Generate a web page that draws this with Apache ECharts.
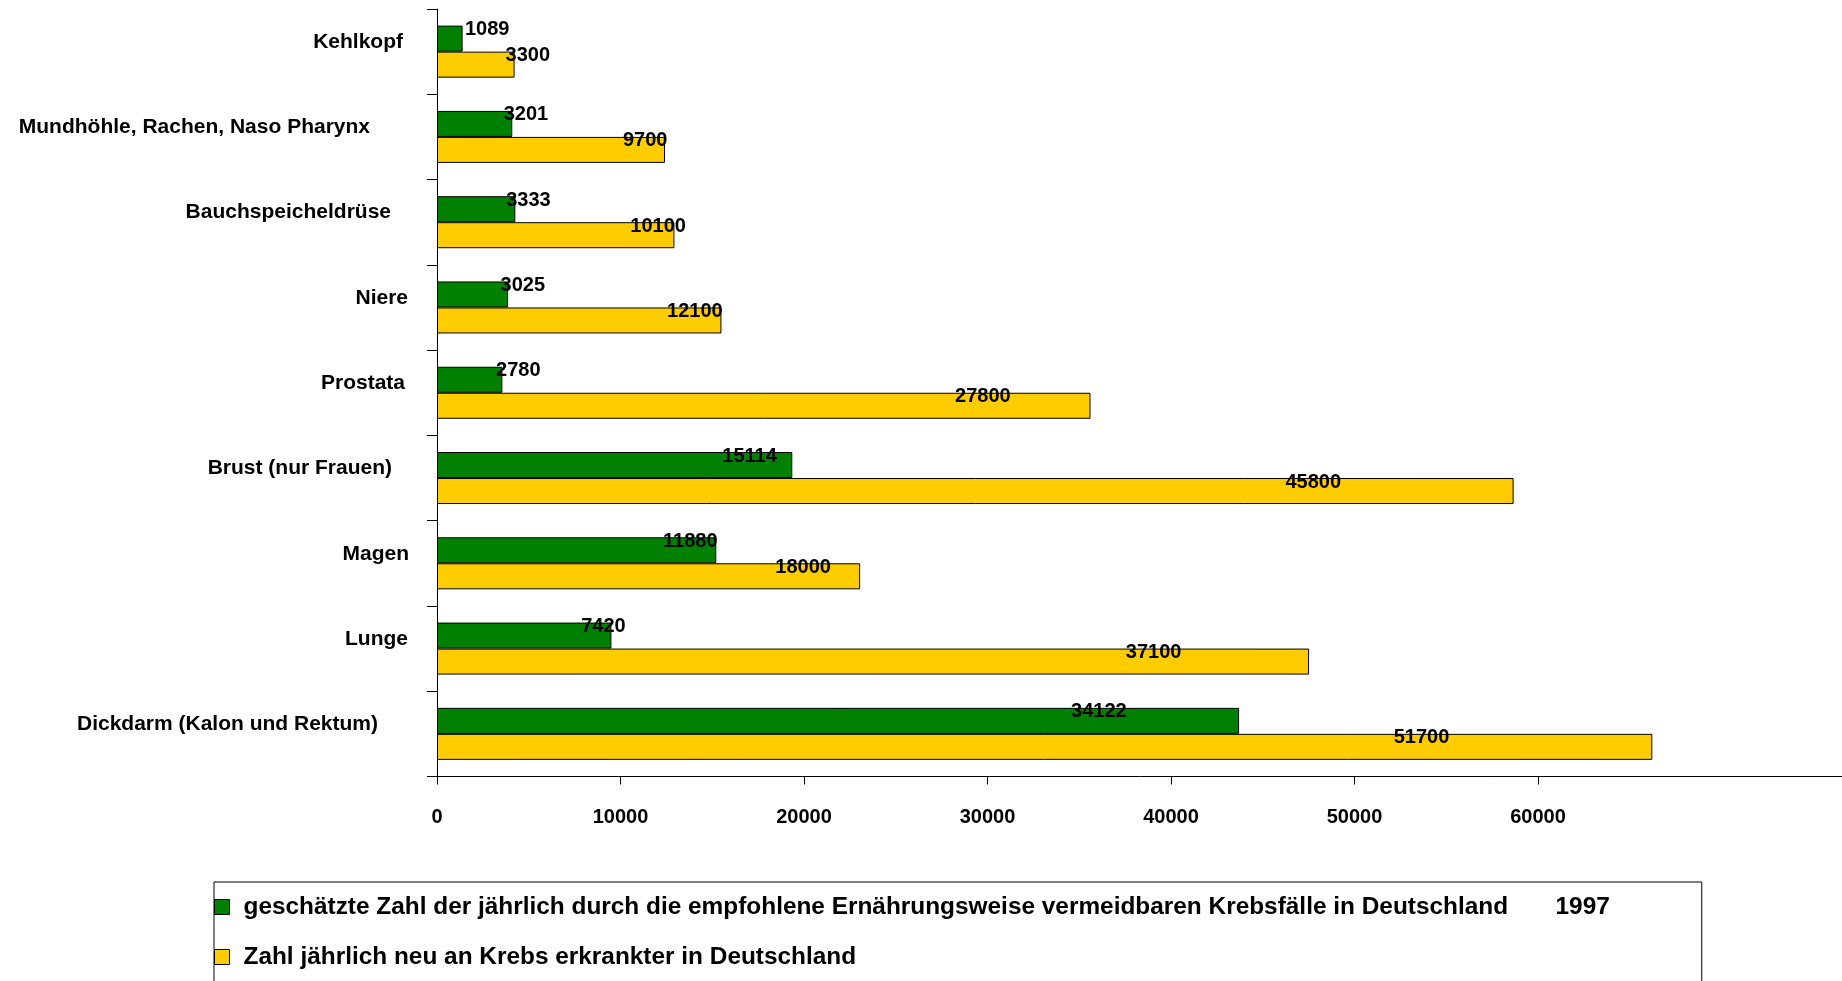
<!DOCTYPE html>
<html>
<head>
<meta charset="utf-8">
<title>Krebsfälle in Deutschland</title>
<script src="https://cdn.jsdelivr.net/npm/echarts@6/dist/echarts.min.js"></script>
<style>
  html, body { margin: 0; padding: 0; background: #fff; }
  #chart { width: 1842px; height: 981px; }
</style>
</head>
<body>
<div id="chart"></div>
<script>
// Krebsarten, von oben nach unten
const categories = [
  'Kehlkopf',
  'Mundhöhle, Rachen, Naso Pharynx',
  'Bauchspeicheldrüse',
  'Niere',
  'Prostata',
  'Brust (nur Frauen)',
  'Magen',
  'Lunge',
  'Dickdarm (Kalon und Rektum)'
];

// geschätzte vermeidbare Krebsfälle pro Jahr
const avoidableCases = [1089, 3201, 3333, 3025, 2780, 15114, 11880, 7420, 34122];

// jährliche Neuerkrankungen
const newCases = [3300, 9700, 10100, 12100, 27800, 45800, 18000, 37100, 51700];

// beschriftete Teilstriche der Werteachse
const xTickLabels = ['0', '10000', '20000', '30000', '40000', '50000', '60000'];

const seriesNames = [
  'geschätzte Zahl der jährlich durch die empfohlene Ernährungsweise vermeidbaren Krebsfälle in Deutschland       1997',
  'Zahl jährlich neu an Krebs erkrankter in Deutschland'
];

// Balkeneinheiten zwischen zwei beschrifteten Teilstrichen der Achse
const TICK_STEP = 7806;
// Wert am rechten Ende der Achsenlinie
const X_MAX = 59770;

// Wertbeschriftung sitzt dort, wo ihre Zahl auf der gedruckten Skala liegt
const LABEL_AT = (TICK_STEP / 10000 * 100).toFixed(2) + '%';

// zusätzlicher rechter Abstand der Kategorienamen zur Achse
const catLabelInset = [6, 39, 18, 1, 4, 17, 0, 1, 31];

const FONT = 'Liberation Sans';

const tickValues = xTickLabels.map((_, i) => i * TICK_STEP);

const chart = echarts.init(document.getElementById('chart'), null, { renderer: 'canvas' });

function valueLabel() {
  return {
    show: true,
    position: [LABEL_AT, 4],
    offset: [8, 0],
    align: 'left',
    verticalAlign: 'middle',
    color: '#000',
    fontFamily: FONT,
    fontWeight: 'bold',
    fontSize: 20
  };
}

chart.setOption({
  animation: false,
  backgroundColor: '#fff',
  grid: { left: 437, top: 9, right: 0, bottom: 204.5, containLabel: false },
  xAxis: {
    type: 'value',
    min: 0,
    max: X_MAX,
    splitLine: { show: false },
    axisLine: { show: true, lineStyle: { color: '#000', width: 1 } },
    axisTick: { show: true, length: 8, customValues: tickValues, lineStyle: { color: '#000' } },
    axisLabel: {
      customValues: tickValues,
      formatter: v => xTickLabels[Math.round(v / TICK_STEP)] ?? '',
      margin: 31,
      color: '#000',
      fontFamily: FONT,
      fontWeight: 'bold',
      fontSize: 20
    }
  },
  yAxis: {
    type: 'category',
    inverse: true,
    data: categories.map((c, i) => ({
      value: c,
      textStyle: { padding: [0, catLabelInset[i], 0, 0] }
    })),
    axisLine: { show: true, lineStyle: { color: '#000', width: 1 } },
    axisTick: { show: true, length: 10, lineStyle: { color: '#000' } },
    axisLabel: {
      margin: 28,
      // leere zweite Zeile hebt den Namen über die Balkenmitte
      formatter: name => name + '\n ',
      lineHeight: 19,
      color: '#000',
      fontFamily: FONT,
      fontWeight: 'bold',
      fontSize: 21
    }
  },
  legend: {
    orient: 'vertical',
    left: 214,
    top: 882,
    height: 300,
    padding: [13, 92, 80, 0],
    itemGap: 26,
    itemWidth: 15,
    itemHeight: 15,
    icon: 'rect',
    borderColor: '#000',
    borderWidth: 1,
    backgroundColor: '#fff',
    itemStyle: { borderColor: '#000', borderWidth: 1 },
    textStyle: {
      color: '#000',
      fontFamily: FONT,
      fontWeight: 'bold',
      fontSize: 24.4,
      padding: [0, 0, 0, 9]
    },
    data: seriesNames
  },
  series: [
    {
      name: seriesNames[0],
      type: 'bar',
      data: avoidableCases,
      barGap: '0%',
      barCategoryGap: '39%',
      itemStyle: { color: '#008000', borderColor: '#000', borderWidth: 1 },
      label: valueLabel()
    },
    {
      name: seriesNames[1],
      type: 'bar',
      data: newCases,
      barGap: '0%',
      barCategoryGap: '39%',
      itemStyle: { color: '#FFCC00', borderColor: '#000', borderWidth: 1 },
      label: valueLabel()
    }
  ]
});
</script>
</body>
</html>
